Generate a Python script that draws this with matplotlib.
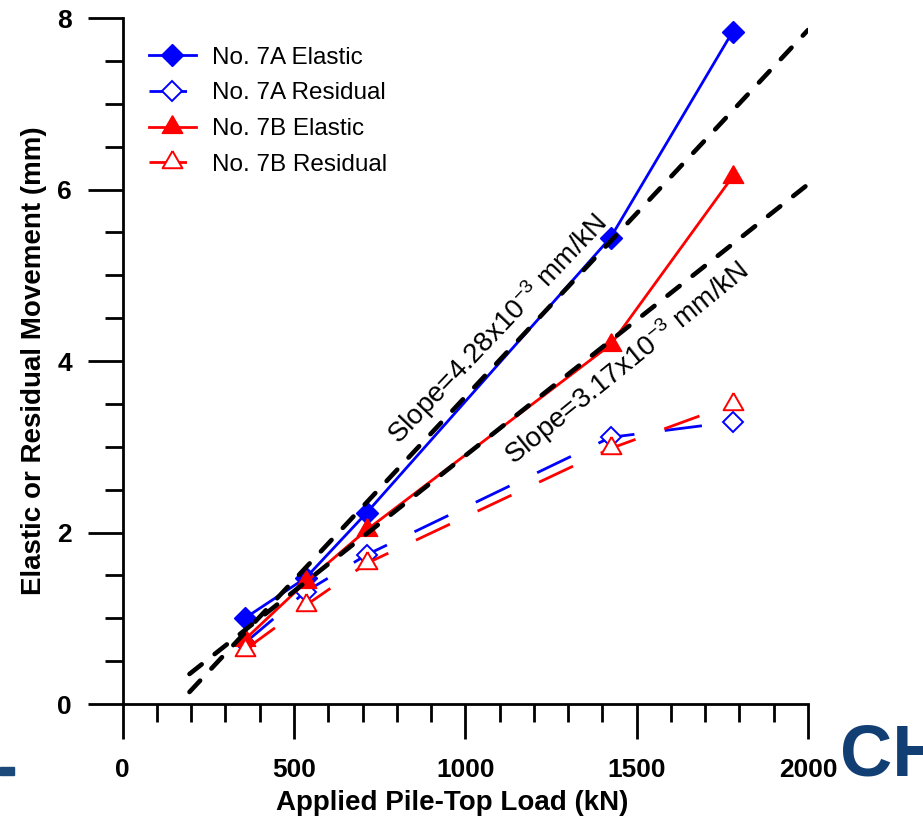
import numpy as np
import matplotlib
matplotlib.use("Agg")
import matplotlib.pyplot as plt
from matplotlib.ticker import MultipleLocator
from matplotlib.patches import Rectangle

plt.rcParams.update({"font.family": "Liberation Sans", "mathtext.fontset": "custom",
                     "mathtext.rm": "Liberation Sans", "mathtext.it": "Liberation Sans:italic",
                     "mathtext.bf": "Liberation Sans:bold"})

# data
loads = [356, 534, 712, 1424, 1780]            # applied pile-top load (kN)
a_elastic = [1.00, 1.47, 2.23, 5.44, 7.84]     # No. 7A elastic (mm)
a_resid = [0.71, 1.31, 1.74, 3.11, 3.29]       # No. 7A residual (mm)
b_elastic = [0.75, 1.42, 2.03, 4.19, 6.15]     # No. 7B elastic (mm)
b_resid = [0.63, 1.15, 1.64, 2.98, 3.50]       # No. 7B residual (mm)
fit_x = [195, 2000]
fit_a = [0.14, 7.86]                           # slope 4.28e-3 mm/kN
fit_b = [0.35, 6.06]                           # slope 3.17e-3 mm/kN

tri = [(0, 1), (-0.866, -0.5), (0.866, -0.5), (0, 1)]
BL, RD = "#0000ff", "#ff0000"

fig = plt.figure(figsize=(9.23, 8.19), dpi=100)
ax = fig.add_axes([0.1329, 0.1404, 0.7425, 0.8376])

res_ls = (0, (13.5, 11))
ax.plot(loads, a_elastic, color=BL, lw=2, marker="D", ms=11, mec=BL, label="No. 7A Elastic", zorder=2)
ax.plot(loads, a_resid, color=BL, lw=2, ls=res_ls, marker="D", ms=10.5, mfc="white", mec=BL, mew=1.4,
        label="No. 7A Residual", zorder=2)
ax.plot(loads, b_elastic, color=RD, lw=2, marker=tri, ms=17, mec=RD, label="No. 7B Elastic", zorder=2)
ax.plot(loads, b_resid, color=RD, lw=2, ls=res_ls, marker=tri, ms=16.5, mfc="white", mec=RD, mew=1.4,
        label="No. 7B Residual", zorder=2)
for fy in (fit_a, fit_b):
    ax.plot(fit_x, fy, color="black", lw=3.3, ls=(0, (3.4, 3.6)), dash_capstyle="round", zorder=3)

ax.text(1095, 4.37, r"Slope=4.28x10$^{-3}$ mm/kN", fontsize=20, rotation=46.5,
        rotation_mode="anchor", ha="center", va="center")
ax.text(1470, 3.98, r"Slope=3.17x10$^{-3}$ mm/kN", fontsize=20, rotation=39,
        rotation_mode="anchor", ha="center", va="center")

ax.set_xlim(0, 2000); ax.set_ylim(0, 8)
ax.xaxis.set_major_locator(MultipleLocator(500)); ax.xaxis.set_minor_locator(MultipleLocator(100))
ax.yaxis.set_major_locator(MultipleLocator(2)); ax.yaxis.set_minor_locator(MultipleLocator(0.5))
for s in ("top", "right"):
    ax.spines[s].set_visible(False)
for s in ("left", "bottom"):
    ax.spines[s].set_linewidth(2)
ax.tick_params(which="major", length=25, width=2, labelsize=19, direction="out")
ax.tick_params(which="minor", length=13, width=2, direction="out")
ax.tick_params(axis="x", which="major", pad=14)
ax.tick_params(axis="y", which="major", pad=11.5)
for lab in ax.get_xticklabels() + ax.get_yticklabels():
    lab.set_fontweight("bold")

ax.set_xlabel("Applied Pile-Top Load (kN)", fontsize=20, fontweight="bold")
ax.set_ylabel("Elastic or Residual Movement (mm)", fontsize=20, fontweight="bold")
ax.xaxis.set_label_coords(0.4805, -0.126)
ax.yaxis.set_label_coords(-0.11, 0.5)

ax.legend(loc="upper left", bbox_to_anchor=(0.038, 0.958), frameon=False, fontsize=17.5,
          handlelength=1.93, handletextpad=0.66, labelspacing=0.56, borderaxespad=0, borderpad=0,
          numpoints=1)

# slide decorations
fig.text(840 / 923, 1 - 775 / 819, "CH", fontsize=52, fontweight="bold", color="#123f73",
         ha="left", va="baseline")
fig.patches.append(Rectangle((0, 1 - 775 / 819), 14 / 923, 8 / 819, transform=fig.transFigure,
                             color="#1b4a7a"))

fig.savefig("out.png", dpi=100)
